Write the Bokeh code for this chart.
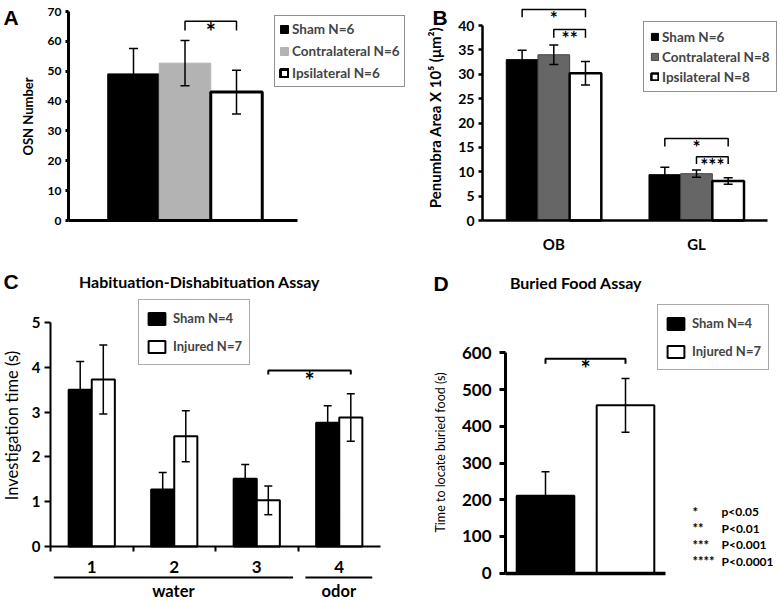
import math
from bokeh.plotting import figure
from bokeh.models import (ColumnDataSource, Range1d, FixedTicker, Whisker, TeeHead,
                          Legend, LegendItem, Label)
from bokeh.layouts import column, row
from bokeh.embed import file_html
from bokeh.resources import INLINE
from bokeh.core.properties import value

FONT = "Lato"
LETTER_FONT = "Liberation Sans"

# ---------------- data: panel A ----------------
a_groups = ["Sham N=6", "Contralateral N=6", "Ipsilateral N=6"]
a_mean = [49.1, 52.7, 43.0]
a_err = [8.5, 7.6, 7.3]
a_yticks = [0, 10, 20, 30, 40, 50, 60, 70]
a_sig = [(1, 2, 66.7, 63.6, "*")]          # bar i, bar j, bracket top, leg end, text

# ---------------- data: panel B ----------------
b_regions = ["OB", "GL"]
b_groups = ["Sham N=6", "Contralateral N=8", "Ipsilateral N=8"]
b_sham = [33.0, 9.4]
b_sham_err = [1.9, 1.5]
b_contra = [34.0, 9.6]
b_contra_err = [2.0, 0.75]
b_ipsi = [30.2, 8.1]
b_ipsi_err = [2.4, 0.65]
b_yticks = [0, 5, 10, 15, 20, 25, 30, 35, 40]
b_sig = [(0, 0, 2, 43.3, 41.7, "*"), (0, 1, 2, 39.2, 37.5, "**"),
         (1, 0, 2, 16.8, 15.2, "*"), (1, 1, 2, 13.1, 11.6, "***")]

# ---------------- data: panel C ----------------
c_trials = ["1", "2", "3", "4"]
c_groups = ["Sham N=4", "Injured N=7"]
c_sham = [3.50, 1.27, 1.51, 2.76]
c_sham_err = [0.63, 0.38, 0.32, 0.38]
c_inj = [3.73, 2.46, 1.03, 2.88]
c_inj_err = [0.77, 0.57, 0.32, 0.53]
c_yticks = [0, 1, 2, 3, 4, 5]
c_stimuli = ["water", "odor"]
c_stim_span = [(0, 2), (3, 3)]
c_sig = [(2, 3, 3.93, 3.84, "*")]

# ---------------- data: panel D ----------------
d_groups = ["Sham N=4", "Injured N=7"]
d_mean = [211, 457]
d_err = [65, 73]
d_yticks = [0, 100, 200, 300, 400, 500, 600]
d_sig = [(0, 1, 584, 570, "*")]
p_stars = ["*", "**", "***", "****"]
p_texts = ["p<0.05", "P<0.01", "P<0.001", "P<0.0001"]


class Panel:
    """A figure whose frame fills its whole canvas; page pixel <-> data helpers."""
    def __init__(self, cx0, cy0, cx1, cy1, x_ref, x_px, x_ppu, y0_px, y_ppu):
        self.cx0, self.cy0, self.cx1, self.cy1 = cx0, cy0, cx1, cy1
        self.x_ref, self.x_px, self.x_ppu = x_ref, x_px, x_ppu
        self.y0_px, self.y_ppu = y0_px, y_ppu
        xr = Range1d(self.xd(cx0), self.xd(cx1))
        yr = Range1d(self.yd(cy1), self.yd(cy0))
        p = figure(width=cx1 - cx0, height=cy1 - cy0, x_range=xr, y_range=yr, title=None,
                   output_backend="svg", toolbar_location=None,
                   min_border_left=0, min_border_right=0, min_border_top=0, min_border_bottom=0)
        p.outline_line_color = None
        p.xgrid.visible = False
        p.ygrid.visible = False
        p.background_fill_color = "white"
        p.border_fill_color = "white"
        self.p = p

    def xd(self, px):
        return self.x_ref + (px - self.x_px) / self.x_ppu

    def yd(self, py):
        return (self.y0_px - py) / self.y_ppu

    def label(self, px, py, text, size, font=FONT, style="bold", align="left",
              baseline="alphabetic", angle=0.0):
        self.p.add_layout(Label(x=px - self.cx0, y=self.cy1 - py, x_units="screen", y_units="screen",
                                text=text, text_font=font, text_font_style=style, text_font_size=size,
                                text_align=align, text_baseline=baseline, text_color="black",
                                angle=angle))

    def yaxis(self, ticks, axis_px, lw, tick_out, size, standoff):
        ax = self.p.yaxis[0]
        ax.fixed_location = self.xd(axis_px)
        ax.ticker = FixedTicker(ticks=ticks)
        ax.bounds = (ticks[0], ticks[-1])
        ax.axis_line_width = lw
        ax.axis_line_color = "black"
        ax.major_tick_line_width = lw
        ax.major_tick_out = tick_out
        ax.major_tick_in = 0
        ax.minor_tick_line_color = None
        ax.major_label_text_font = FONT
        ax.major_label_text_font_style = "bold"
        ax.major_label_text_font_size = size
        ax.major_label_text_color = "black"
        ax.major_label_standoff = standoff
        return ax

    def xaxis(self, lo_px, hi_px, lw):
        ax = self.p.xaxis[0]
        ax.fixed_location = 0
        ax.bounds = (self.xd(lo_px), self.xd(hi_px))
        ax.axis_line_width = lw
        ax.axis_line_color = "black"
        ax.major_tick_in = 0
        ax.major_tick_out = 0
        ax.minor_tick_line_color = None
        ax.major_label_text_font = FONT
        ax.major_label_text_font_style = "bold"
        ax.major_label_text_color = "black"
        return ax

    def legend(self, items, left_px, bottom_px, **kw):
        leg = Legend(items=items, location=(left_px - self.cx0, self.cy1 - bottom_px), margin=0,
                     label_text_font=FONT, label_text_font_style="bold",
                     background_fill_color="white", background_fill_alpha=1, **kw)
        self.p.add_layout(leg)


def add_brackets(p, coords, size, lw=1.5):
    for x0, x1, top, leg, txt in coords:
        p.line([x0, x0, x1, x1], [leg, top, top, leg], line_color="black", line_width=lw)
        p.text(x=[(x0 + x1) / 2], y=[top], text=[txt], text_font=value(FONT),
               text_font_style="bold", text_font_size=size, text_align="center",
               text_baseline="alphabetic", text_color="black",
               y_offset=round(float(size[:-2]) * 0.42))


def whisker(src, base, up, lo, size, lw):
    return Whisker(source=src, base=base, upper=up, lower=lo, dimension="height",
                   line_color="black", line_width=lw, level="annotation",
                   upper_head=TeeHead(size=size, line_width=lw, line_color="black"),
                   lower_head=TeeHead(size=size, line_width=lw, line_color="black"))


VERT = math.pi / 2

# ======================= Panel A =======================
A = Panel(0, 0, 410, 262, x_ref=1, x_px=133, x_ppu=51.5, y0_px=220, y_ppu=209 / 70)
pA = A.p
a_x = [i + 1 for i in range(len(a_groups))]
a_src = ColumnDataSource(dict(
    x=a_x, top=a_mean,
    upper=[m + e for m, e in zip(a_mean, a_err)], lower=[m - e for m, e in zip(a_mean, a_err)],
    fill=["black", "#b3b3b3", "white"], line=["black", "#b3b3b3", "black"], lw=[1, 1, 3]))
rA = pA.vbar(x="x", top="top", bottom=0, width=1.0, source=a_src,
             fill_color="fill", line_color="line", line_width="lw")
pA.add_layout(whisker(a_src, "x", "upper", "lower", 9, 1.5))
add_brackets(pA, [(a_x[i], a_x[j], t, l, s) for i, j, t, l, s in a_sig], "24px")
A.yaxis(a_yticks, 68, 3, 3, "12px", 4)
axA = A.xaxis(68, 297, 3)
axA.ticker = FixedTicker(ticks=[])
A.legend([LegendItem(label=value(g), renderers=[rA], index=i) for i, g in enumerate(a_groups)],
         274, 87, glyph_width=10, glyph_height=10, label_standoff=3, label_height=18, spacing=4,
         padding=4, border_line_color="#222222", border_line_width=1, label_text_font_size="13.5px")
A.label(27, 116, "OSN Number", "13px", align="center", baseline="middle", angle=VERT)
A.label(3, 17, "A", "21px", font=LETTER_FONT)

# ======================= Panel B =======================
B = Panel(410, 0, 780, 262, x_ref=0.5, x_px=553.3, x_ppu=142.7, y0_px=220, y_ppu=195 / 40)
pB = B.p
b_x = [i + 0.5 for i in range(len(b_regions))]
b_off = [-0.222, 0.0, 0.222]
b_series = [(b_sham, b_sham_err), (b_contra, b_contra_err), (b_ipsi, b_ipsi_err)]
b_fill = ["black", "#666666", "white"]
b_line = ["black", "#444444", "black"]
b_lw = [1, 1, 2.5]
b_items = []
for j, (vals, errs) in enumerate(b_series):
    src = ColumnDataSource(dict(
        x=[x + b_off[j] for x in b_x], top=vals,
        upper=[v + e for v, e in zip(vals, errs)], lower=[v - e for v, e in zip(vals, errs)]))
    r = pB.vbar(x="x", top="top", bottom=0, width=0.222, source=src,
                fill_color=b_fill[j], line_color=b_line[j], line_width=b_lw[j])
    b_items.append(LegendItem(label=value(b_groups[j]), renderers=[r]))
    pB.add_layout(whisker(src, "x", "upper", "lower", 9, 1.5))
for ri, i, j, t, l, s in b_sig:
    add_brackets(pB, [(b_x[ri] + b_off[i], b_x[ri] + b_off[j], t, l, s)], "19px")
B.yaxis(b_yticks, 482, 2.5, 4, "14px", 4)
axB = B.xaxis(482, 767, 2.5)
axB.ticker = FixedTicker(ticks=b_x)
axB.major_label_overrides = {x: t for x, t in zip(b_x, b_regions)}
axB.major_label_text_font_size = "15px"
axB.major_label_standoff = 14
B.legend(b_items, 643, 92, glyph_width=9, glyph_height=9, label_standoff=3, label_height=17,
         spacing=3, padding=6, border_line_color="#222222", border_line_width=1,
         label_text_font_size="13.5px")
B.label(434, 117, "Penumbra Area X 10\u2075 (\u03bcm\u00b2)", "15px", align="center",
        baseline="middle", angle=VERT)
B.label(432, 16.5, "B", "21px", font=LETTER_FONT)

# ======================= Panel C =======================
C = Panel(0, 262, 400, 600, x_ref=0, x_px=50, x_ppu=82.5, y0_px=546, y_ppu=224 / 5)
pC = C.p
c_x = [i + 0.5 for i in range(len(c_trials))]
c_off = 0.14
c_src = ColumnDataSource(dict(
    xs=[x - c_off for x in c_x], xi=[x + c_off for x in c_x], sham=c_sham, inj=c_inj,
    su=[v + e for v, e in zip(c_sham, c_sham_err)], sl=[v - e for v, e in zip(c_sham, c_sham_err)],
    iu=[v + e for v, e in zip(c_inj, c_inj_err)], il=[v - e for v, e in zip(c_inj, c_inj_err)]))
rc1 = pC.vbar(x="xs", top="sham", bottom=0, width=0.28, source=c_src,
              fill_color="black", line_color="black", line_width=2)
rc2 = pC.vbar(x="xi", top="inj", bottom=0, width=0.28, source=c_src,
              fill_color="white", line_color="black", line_width=2)
pC.add_layout(whisker(c_src, "xs", "su", "sl", 8, 1.5))
pC.add_layout(whisker(c_src, "xi", "iu", "il", 8, 1.5))
add_brackets(pC, [(c_x[i] + c_off, c_x[j] + c_off, t, l, s) for i, j, t, l, s in c_sig], "24px", lw=2)
C.yaxis(c_yticks, 50, 2, 6, "15px", 4)
axC = C.xaxis(50, 380, 2)
axC.ticker = FixedTicker(ticks=c_x, minor_ticks=[float(i) for i in range(len(c_trials))])
axC.major_label_overrides = {x: t for x, t in zip(c_x, c_trials)}
axC.minor_tick_line_color = "black"
axC.minor_tick_line_width = 2
axC.minor_tick_out = 5
axC.minor_tick_in = 0
axC.major_label_text_font_size = "17px"
axC.major_label_standoff = 9
C.legend([LegendItem(label=value(c_groups[0]), renderers=[rc1]),
          LegendItem(label=value(c_groups[1]), renderers=[rc2])],
         138, 365, glyph_width=21, glyph_height=15, label_standoff=6, label_height=22, spacing=6,
         padding=7, border_line_color="#555555", border_line_width=1, label_text_font_size="13px")
line_y = C.yd(577)
text_y = C.yd(590)
for name, (lo, hi) in zip(c_stimuli, c_stim_span):
    x0 = lo + (0.04 if lo == 0 else 0.09)
    x1 = hi + 1 - (0.06 if hi < len(c_trials) - 1 else 0.1)
    pC.line([x0, x1], [line_y, line_y], line_color="black", line_width=2)
    pC.text(x=[(x0 + x1) / 2], y=[text_y], text=[name], text_align="center",
            text_baseline="alphabetic", text_font=value(FONT), text_font_style="bold",
            text_font_size="16.5px", text_color="black")
C.label(11, 425, "Investigation time (s)", "16.5px", style="normal", align="center",
        baseline="middle", angle=VERT)
C.label(3, 281, "C", "21px", font=LETTER_FONT)
C.label(199, 281, "Habituation-Dishabituation Assay", "16px", align="center")

# ======================= Panel D =======================
D = Panel(400, 262, 780, 600, x_ref=0, x_px=505, x_ppu=80, y0_px=572.7, y_ppu=220.4 / 600)
pD = D.p
d_x = [i + 0.5 for i in range(len(d_groups))]
d_src = ColumnDataSource(dict(
    x=d_x, mean=d_mean,
    upper=[m + e for m, e in zip(d_mean, d_err)], lower=[m - e for m, e in zip(d_mean, d_err)],
    fill=["black", "white"]))
rD = pD.vbar(x="x", top="mean", bottom=0, width=0.72, source=d_src,
             fill_color="fill", line_color="black", line_width=2)
pD.add_layout(whisker(d_src, "x", "upper", "lower", 8, 1.5))
add_brackets(pD, [(d_x[i], d_x[j], t, l, s) for i, j, t, l, s in d_sig], "24px", lw=2)
D.yaxis(d_yticks, 505, 3, 6, "17px", 8)
axD = D.xaxis(505, 665, 3.5)
axD.ticker = FixedTicker(ticks=[])
D.legend([LegendItem(label=value(g), renderers=[rD], index=i) for i, g in enumerate(d_groups)],
         657, 370, glyph_width=21, glyph_height=15, label_standoff=6, label_height=22, spacing=6,
         padding=7, border_line_color="#555555", border_line_width=1, label_text_font_size="13px")
for k, (st, tx) in enumerate(zip(p_stars, p_texts)):
    base = 511 + 16.5 * k
    D.label(692, base, st, "13px")
    D.label(721, base, tx, "12px")
D.label(440, 452, "Time to locate buried food (s)", "12.5px", style="normal", align="center",
        baseline="middle", angle=VERT)
D.label(433, 283, "D", "21px", font=LETTER_FONT)
D.label(575.5, 282, "Buried Food Assay", "16px", align="center")

layout = column(row(pA, pB), row(pC, pD))
open("out.html", "w").write(file_html(layout, INLINE))
